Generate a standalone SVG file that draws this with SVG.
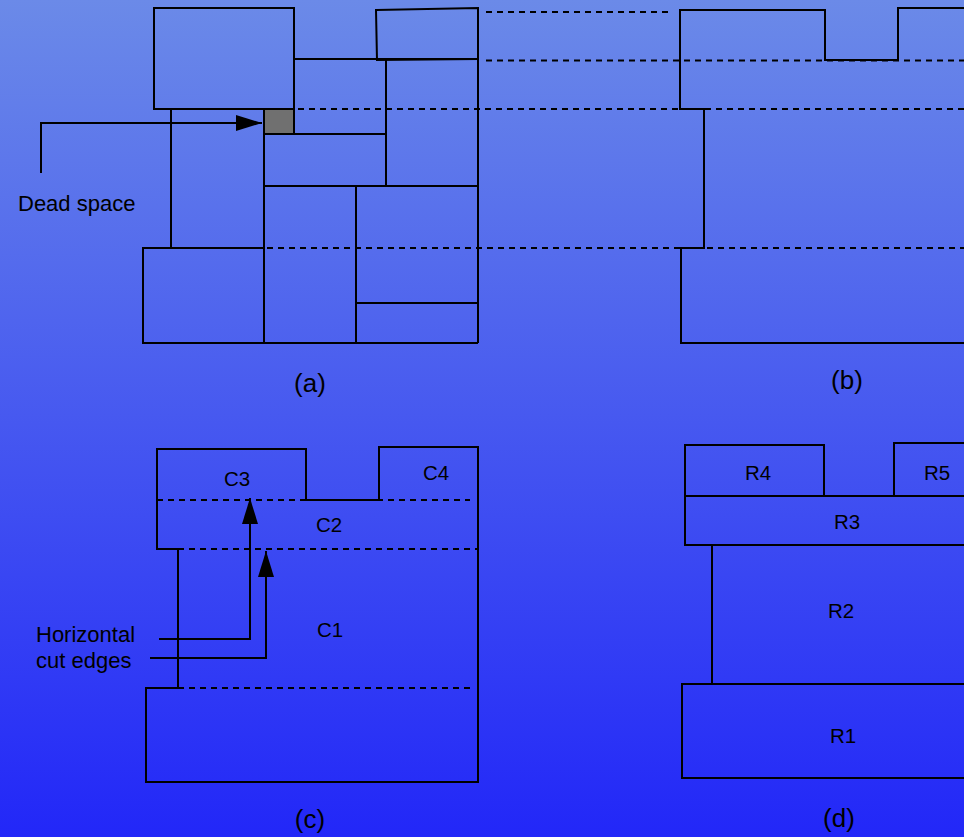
<svg xmlns="http://www.w3.org/2000/svg" width="964" height="837" viewBox="0 0 964 837">
<defs>
<linearGradient id="bg" x1="0" y1="0" x2="0" y2="1">
<stop offset="0" stop-color="#6b8ae8"/>
<stop offset="1" stop-color="#2227f8"/>
</linearGradient>
<marker id="ah" viewBox="0 0 26 16" refX="26" refY="8" markerWidth="26" markerHeight="16" markerUnits="userSpaceOnUse" orient="auto">
<path d="M0,0 L26,8 L0,16 Z" fill="#000"/>
</marker>
<style>
.s{fill:none;stroke:#000;stroke-width:2}
.d{fill:none;stroke:#000;stroke-width:2;stroke-dasharray:6,5}
.c{fill:none;stroke:#000;stroke-width:2}
text{font-family:"Liberation Sans",Arial,sans-serif;fill:#000}
.lab{font-size:20.5px;text-anchor:middle}
.cap{font-size:26px;text-anchor:middle}
.note{font-size:22px}
</style>
</defs>
<rect width="964" height="837" fill="url(#bg)"/>

<!-- Panel (a) -->
<g id="panel-a">
<rect id="a-top-left" class="s" x="154" y="8" width="140" height="101"/>
<path id="a-top-right" class="s" d="M376,10 L478,8 L478,59 L377,60 Z"/>
<path class="s" d="M294,59 H478"/>
<path class="s" d="M386,59 V186"/>
<rect id="a-dead" x="264" y="109" width="30" height="25" fill="#707070" stroke="#000" stroke-width="2"/>
<path class="s" d="M264,134 H386"/>
<path class="s" d="M264,109 V343"/>
<path class="s" d="M264,186 H478"/>
<path class="s" d="M356,186 V343"/>
<path class="s" d="M356,303 H478"/>
<path class="s" d="M478,8 V343"/>
<path class="s" d="M143,343 H478"/>
<rect class="s" x="143" y="248" width="121" height="95"/>
<path class="s" d="M171,109 V248"/>
<path class="s" d="M171,109 H264"/>
</g>

<!-- Panel (b) -->
<g id="panel-b">
<path class="s" d="M964,8 H898 V60 H825 V10 H680 V109 H704 V248 H681 V343 H964"/>
</g>

<!-- Dashed guide lines -->
<g id="guides">
<path class="d" d="M486,12 H670"/>
<path class="d" d="M486,60.5 H964"/>
<path class="d" d="M287,109 H964"/>
<path class="d" d="M267,248 H964"/>
</g>

<!-- Panel (c) -->
<g id="panel-c">
<path class="s" d="M157,449 H306 V500 H379 V447 H478 V782 H146 V688 H178 V549 H157 Z"/>
<path class="d" d="M157,500 H470"/>
<path class="d" d="M178,549 H478"/>
<path class="d" d="M178,688 H470"/>
<text class="lab" x="237" y="486">C3</text>
<text class="lab" x="436" y="480">C4</text>
<text class="lab" x="329" y="532">C2</text>
<text class="lab" x="330" y="637">C1</text>
</g>

<!-- Panel (d) -->
<g id="panel-d">
<rect id="R4" class="s" x="685" y="445" width="139" height="51"/>
<rect id="R5" class="s" x="894" y="443" width="80" height="53"/>
<rect id="R3" class="s" x="685" y="496" width="289" height="49"/>
<path id="R2" class="s" d="M712,545 V684"/>
<rect id="R1" class="s" x="682" y="684" width="292" height="94"/>
<text class="lab" x="758" y="480">R4</text>
<text class="lab" x="937" y="480">R5</text>
<text class="lab" x="847" y="529">R3</text>
<text class="lab" x="841" y="618">R2</text>
<text class="lab" x="843" y="743">R1</text>
</g>

<!-- Connectors -->
<g id="connectors">
<path class="c" d="M41,173 V123 H262" marker-end="url(#ah)"/>
<path class="c" d="M159,639 H250 V498" marker-end="url(#ah)"/>
<path class="c" d="M150,658 H266 V551" marker-end="url(#ah)"/>
</g>

<!-- Annotations -->
<g id="annotations">
<text class="note" x="18" y="211">Dead space</text>
<text class="note" x="36" y="642">Horizontal</text>
<text class="note" x="36" y="668">cut edges</text>
<text class="cap" x="310" y="392">(a)</text>
<text class="cap" x="847" y="389">(b)</text>
<text class="cap" x="310" y="828">(c)</text>
<text class="cap" x="839" y="827">(d)</text>
</g>
</svg>
